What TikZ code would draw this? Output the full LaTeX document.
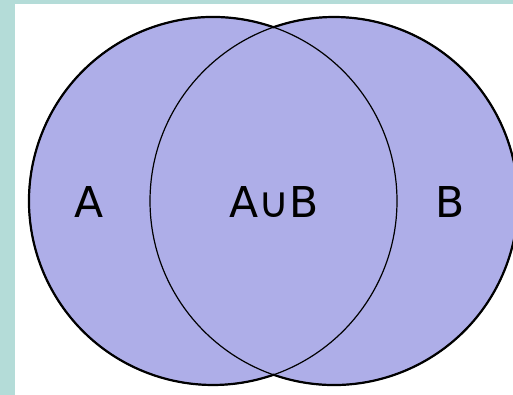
\documentclass[tikz,border=0pt]{standalone}
\usepackage{fontspec}
\setmainfont{DejaVu Sans}
\usetikzlibrary{calc}
\definecolor{frameteal}{RGB}{180,220,216}
\definecolor{setfill}{RGB}{174,174,232}
\begin{document}
\begin{tikzpicture}[x=1pt,y=1pt,
  setlabel/.style={anchor=base,inner sep=0pt,font=\fontsize{42.5}{50}\selectfont},
  inner/.style={draw=black,line width=1.2pt},
  outer/.style={draw=black,line width=2.2pt}]
\useasboundingbox (0,0) rectangle (513,395);
\fill[frameteal] (0,0) rectangle (513,395);
\fill[white] (15,0) rectangle (513,391);
\coordinate (cA) at (213,194);
\coordinate (cB) at (334,194);
\fill[setfill] (cA) circle[radius=184];
\fill[setfill] (cB) circle[radius=184];
\draw[inner] (cA) circle[radius=184];
\draw[inner] (cB) circle[radius=184];
\draw[outer,line join=miter] ($(cA)+(70.8:184)$) arc[start angle=70.8,end angle=289.2,radius=184]
  arc[start angle=-109.2,end angle=109.2,radius=184] -- cycle;
\node[setlabel] (A) at (89,177) {A};
\node[setlabel] (AuB) at (274,177) {A∪B};
\node[setlabel] (B) at (450,177) {B};
\end{tikzpicture}
\end{document}
